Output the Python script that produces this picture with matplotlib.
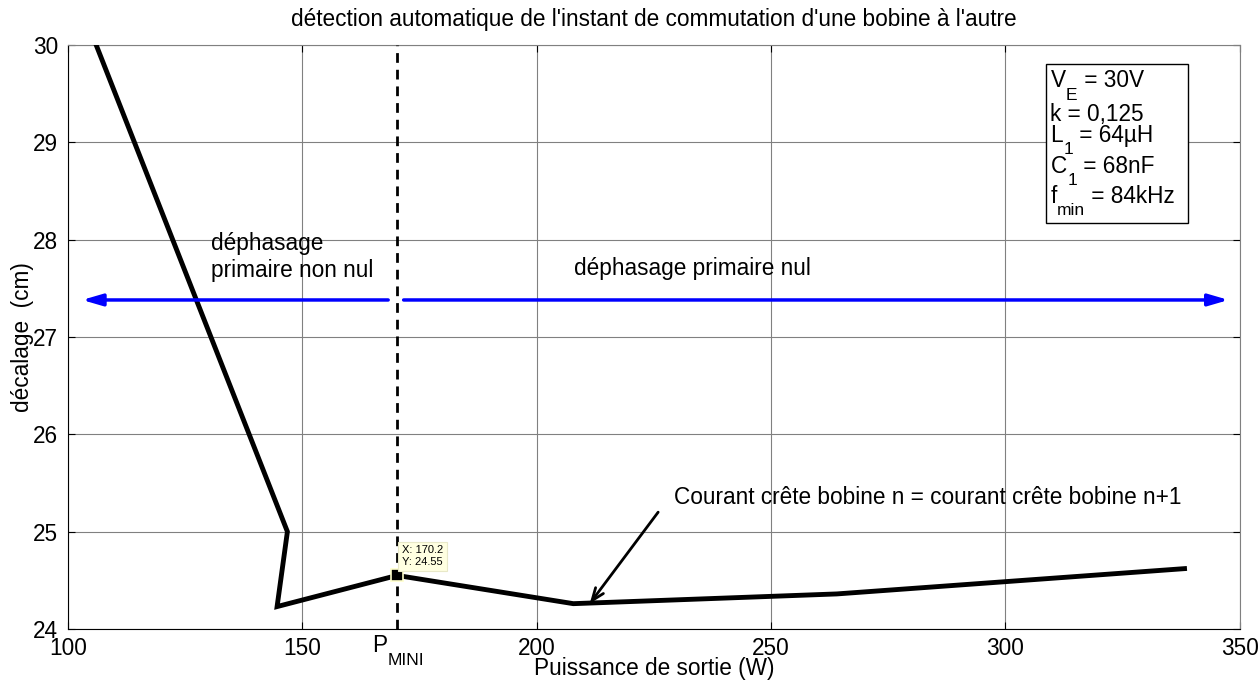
import matplotlib
matplotlib.use("Agg")
import matplotlib.pyplot as plt
from matplotlib.patches import Rectangle

plt.rcParams['font.family'] = ['Liberation Sans', 'DejaVu Sans']

# Curve: offset vs. output power
puissance = [106.0, 146.8, 144.6, 170.2, 207.8, 264.0, 338.2]
decalage = [30.0, 25.0, 24.23, 24.55, 24.26, 24.36, 24.62]

p_mini = 170.2
p_mini_y = 24.55
arrow_y = 27.38
xticks = [100, 150, 200, 250, 300, 350]
xtick_labels = ['100', '150', '200', '250', '300', '350']
yticks = [24, 25, 26, 27, 28, 29, 30]

# Simulation parameters: list of (text, is_subscript) pieces per line
param_lines = [
    [('V', False), ('E', True), (' = 30V', False)],
    [('k = 0,125', False)],
    [('L', False), ('1', True), (' = 64µH', False)],
    [('C', False), ('1', True), (' = 68nF', False)],
    [('f', False), ('min', True), (' = 84kHz', False)],
]
param_baselines = [29.56, 29.21, 29.00, 28.68, 28.37]

FS = 16.3
SUB_FS = 12.5


def rich_text(ax, x, y, pieces, fs=FS, sub_fs=SUB_FS, drop=-8, **kw):
    """Draw text with MATLAB-like lowered subscripts by chaining pieces."""
    first = None
    prev = None
    for txt, sub in pieces:
        if prev is None:
            t = ax.text(x, y, txt, fontsize=sub_fs if sub else fs,
                        ha='left', va='bottom', **kw)
            first = t
        else:
            t = ax.annotate(txt, xy=(1, 0), xycoords=(prev, first),
                            xytext=(0.3 if sub else 0, drop if sub else 0),
                            textcoords='offset points',
                            fontsize=sub_fs if sub else fs,
                            ha='left', va='bottom', **kw)
        prev = t
    return first


fig = plt.figure(figsize=(12.6, 6.81), dpi=100)
ax = fig.add_axes([0.054, 0.0764, 0.93, 0.8576])

ax.plot(puissance, decalage, color='black', lw=3.5, solid_joinstyle='miter', zorder=4)
ax.axvline(p_mini, color='black', lw=2, ls=(0, (3.5, 2.5)), zorder=3)

# data tip
ax.plot([p_mini], [p_mini_y], marker='s', ms=8, color='black',
        markeredgecolor='#ffffcc', markeredgewidth=1.2, zorder=6)
ax.text(p_mini + 1.0, p_mini_y + 0.09, 'X: 170.2\nY: 24.55', fontsize=8,
        va='bottom', ha='left', linespacing=1.15, zorder=7,
        bbox=dict(boxstyle='square,pad=0.35', fc='#ffffe1', ec='#e8e8c8', lw=0.8))

# phase regions
ax.annotate('', xy=(103.0, arrow_y), xytext=(168.3, arrow_y),
            arrowprops=dict(arrowstyle='-|>,head_length=1.2,head_width=0.35',
                            color='#0000ff', lw=2.5, shrinkA=0, shrinkB=0), zorder=5)
ax.annotate('', xy=(347.6, arrow_y), xytext=(171.6, arrow_y),
            arrowprops=dict(arrowstyle='-|>,head_length=1.2,head_width=0.35',
                            color='#0000ff', lw=2.5, shrinkA=0, shrinkB=0), zorder=5)
ax.text(130.5, 28.08, 'déphasage\nprimaire non nul', fontsize=FS, ha='left', va='top',
        linespacing=1.22)
ax.text(208.0, 27.82, 'déphasage primaire nul', fontsize=FS, ha='left', va='top')

# equal-peak-current point
ax.text(229.2, 25.35, 'Courant crête bobine n = courant crête bobine n+1', fontsize=FS,
        ha='left', va='center')
ax.annotate('', xy=(211.3, 24.26), xytext=(225.9, 25.2),
            arrowprops=dict(arrowstyle='->,head_length=0.9,head_width=0.35',
                            color='black', lw=2, shrinkA=0, shrinkB=0), zorder=5)

# parameters box
ax.add_patch(Rectangle((0.8345, 0.695), 0.1211, 0.2729, transform=ax.transAxes,
                       fc='white', ec='black', lw=1, zorder=6))
for pieces, yb in zip(param_lines, param_baselines):
    rich_text(ax, 309.6, yb - 0.045, pieces, drop=-7.5, zorder=7)

ax.set_xlim(100, 350)
ax.set_ylim(24, 30)
ax.set_xticks(xticks)
ax.set_xticklabels(xtick_labels)
ax.set_yticks(yticks)
ax.grid(True, color='#808080', lw=0.8)
ax.set_axisbelow(True)
ax.tick_params(labelsize=FS, direction='in', length=5, top=True, right=True)
ax.tick_params(axis='x', pad=6)
ax.tick_params(axis='y', pad=7)
for s in ['top', 'right']:
    ax.spines[s].set_color('#808080')

# P_MINI label under the dashed line
rich_text(ax, 164.9, 23.71, [('P', False), ('MINI', True)], drop=-8, clip_on=False)

ax.set_xlabel('Puissance de sortie (W)', fontsize=FS, labelpad=-2.5)
ax.set_ylabel('décalage  (cm)', fontsize=FS, labelpad=-1)
ax.set_title("détection automatique de l'instant de commutation d'une bobine à l'autre",
             fontsize=FS, pad=14)

fig.savefig('out.png', dpi=100)
